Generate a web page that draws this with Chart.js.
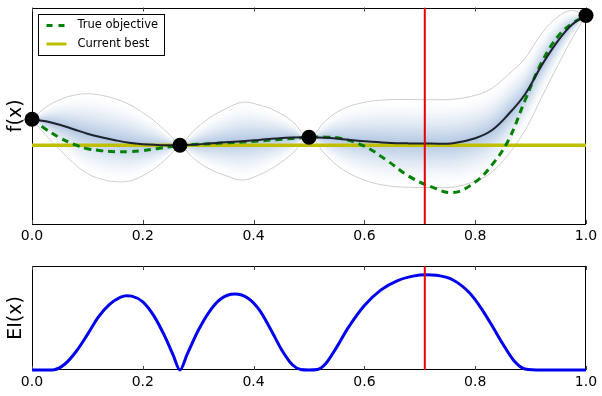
<!DOCTYPE html>
<html><head><meta charset="utf-8">
<script src="https://cdn.jsdelivr.net/npm/chart.js@4/dist/chart.umd.min.js"></script>
<style>
html,body{margin:0;padding:0;background:#fff;overflow:hidden;}
#top{position:absolute;left:0;top:0;width:602px;height:250px;}
#bot{position:absolute;left:0;top:250px;width:602px;height:146px;}
</style></head><body>
<div id="top"><canvas id="c1" width="602" height="250"></canvas></div>
<div id="bot"><canvas id="c2" width="602" height="146"></canvas></div>
<script>
// ---- data ----
const xGrid = [0, 0.025, 0.05, 0.075, 0.1, 0.125, 0.15, 0.175, 0.2, 0.225, 0.25, 0.267, 0.29, 0.32, 0.35, 0.38, 0.41, 0.44, 0.47, 0.5, 0.53, 0.56, 0.6, 0.64, 0.68, 0.72, 0.76, 0.8, 0.83, 0.86, 0.89, 0.92, 0.95, 0.975, 1.0];
const gpMean = [1.05, 1.03, 0.995, 0.95, 0.905, 0.87, 0.84, 0.815, 0.80, 0.793, 0.79, 0.79, 0.795, 0.807, 0.82, 0.83, 0.843, 0.857, 0.867, 0.87, 0.865, 0.85, 0.83, 0.815, 0.808, 0.806, 0.81, 0.86, 0.94, 1.10, 1.30, 1.59, 1.84, 2.00, 2.09];
const gpUpper = [1.05, 1.17, 1.245, 1.29, 1.305, 1.29, 1.255, 1.20, 1.115, 1.013, 0.885, 0.79, 0.925, 1.062, 1.155, 1.22, 1.193, 1.132, 1.027, 0.87, 1.035, 1.15, 1.22, 1.245, 1.248, 1.246, 1.25, 1.29, 1.36, 1.50, 1.66, 1.91, 2.08, 2.14, 2.09];
const gpLower = [1.05, 0.89, 0.745, 0.61, 0.505, 0.45, 0.425, 0.43, 0.485, 0.573, 0.695, 0.79, 0.665, 0.552, 0.485, 0.44, 0.493, 0.582, 0.707, 0.87, 0.695, 0.55, 0.44, 0.385, 0.368, 0.366, 0.37, 0.43, 0.52, 0.70, 0.94, 1.27, 1.60, 1.86, 2.09];
const trueObjective = [1.05, 0.95, 0.865, 0.80, 0.755, 0.735, 0.725, 0.725, 0.735, 0.755, 0.775, 0.79, 0.797, 0.805, 0.813, 0.822, 0.832, 0.845, 0.857, 0.87, 0.87, 0.855, 0.78, 0.64, 0.48, 0.375, 0.315, 0.42, 0.59, 0.84, 1.24, 1.62, 1.885, 2.01, 2.09];
const obsX = [0, 0.267, 0.5, 1.0];
const obsY = [1.05, 0.79, 0.87, 2.09];
const currentBest = 0.79;
const nextX = 0.709;
const eiX = [0, 0.02, 0.04, 0.06, 0.08, 0.1, 0.12, 0.14, 0.16, 0.171, 0.18, 0.2, 0.22, 0.24, 0.255, 0.267, 0.28, 0.3, 0.32, 0.34, 0.366, 0.39, 0.41, 0.43, 0.45, 0.47, 0.485, 0.5, 0.515, 0.53, 0.55, 0.57, 0.6, 0.63, 0.66, 0.69, 0.71, 0.73, 0.76, 0.79, 0.81, 0.83, 0.85, 0.87, 0.89, 0.92, 0.96, 1.0];
const eiY = [0, 0, 0.003, 0.06, 0.18, 0.34, 0.51, 0.63, 0.70, 0.714, 0.71, 0.655, 0.52, 0.32, 0.14, 0, 0.15, 0.38, 0.56, 0.68, 0.73, 0.69, 0.58, 0.40, 0.20, 0.05, 0.005, 0, 0.005, 0.06, 0.22, 0.40, 0.62, 0.77, 0.86, 0.905, 0.915, 0.91, 0.865, 0.74, 0.60, 0.43, 0.25, 0.09, 0.01, 0, 0, 0];
const xTicks = [0, 0.2, 0.4, 0.6, 0.8, 1.0];
const fRange = [0, 2.17];
const eiRange = [0, 1.0];
const legendLabels = ['True objective', 'Current best'];

// ---- helpers ----
const FONT = 'DejaVu Sans';
const pts = (xs, ys) => xs.map((x, i) => ({x: x, y: ys[i]}));

const frameTicks = {
  id: 'frameTicks',
  beforeDatasetsDraw(chart) {
    const a = chart.chartArea, ctx = chart.ctx, xs = chart.scales.x;
    ctx.save();
    ctx.strokeStyle = '#000';
    ctx.lineWidth = 1;
    ctx.strokeRect(Math.round(a.left) + 0.5, Math.round(a.top) + 0.5,
                   Math.round(a.right - a.left) - 1, Math.round(a.bottom - a.top) - 1);
    ctx.strokeStyle = '#444';
    xTicks.forEach(v => {
      const px = Math.round(xs.getPixelForValue(v)) + 0.5;
      ctx.beginPath();
      ctx.moveTo(px, a.bottom); ctx.lineTo(px, a.bottom - 4);
      ctx.moveTo(px, a.top); ctx.lineTo(px, a.top + 4);
      ctx.stroke();
    });
    ctx.restore();
  }
};

const boxLegend = {
  id: 'boxLegend',
  afterDraw(chart) {
    const a = chart.chartArea, ctx = chart.ctx;
    const x0 = Math.round(a.left) + 6.5, y0 = Math.round(a.top) + 6.5;
    ctx.save();
    ctx.fillStyle = '#fff';
    ctx.fillRect(x0, y0, 126, 41);
    ctx.strokeStyle = '#000'; ctx.lineWidth = 1;
    ctx.strokeRect(x0, y0, 126, 41);
    ctx.strokeStyle = 'rgb(0,128,0)'; ctx.lineWidth = 3;
    ctx.setLineDash([6, 6]);
    ctx.beginPath(); ctx.moveTo(x0 + 8, y0 + 11); ctx.lineTo(x0 + 28, y0 + 11); ctx.stroke();
    ctx.setLineDash([]);
    ctx.strokeStyle = 'rgb(191,191,0)'; ctx.lineWidth = 3;
    ctx.beginPath(); ctx.moveTo(x0 + 8, y0 + 29.5); ctx.lineTo(x0 + 28, y0 + 29.5); ctx.stroke();
    ctx.fillStyle = '#000';
    ctx.font = '11.5px "' + FONT + '"';
    ctx.textBaseline = 'middle';
    ctx.fillText(legendLabels[0], x0 + 39, y0 + 11);
    ctx.fillText(legendLabels[1], x0 + 39, y0 + 29.5);
    ctx.restore();
  }
};

function options(yr, title, padTop) {
  return {
    responsive: false, animation: false, devicePixelRatio: 1,
    layout: {padding: {top: padTop, right: 16, left: 0, bottom: 0}},
    plugins: {legend: {display: false}, tooltip: {enabled: false}},
    elements: {point: {radius: 0}, line: {tension: 0.4}},
    scales: {
      x: {
        type: 'linear', min: 0, max: 1,
        grid: {display: false, drawTicks: false}, border: {display: false},
        afterBuildTicks: s => { s.ticks = xTicks.map(v => ({value: v})); },
        ticks: {font: {family: FONT, size: 14}, color: '#000', padding: 4,
                maxRotation: 0, autoSkip: false, callback: v => Number(v).toFixed(1)},
        afterFit: s => { s.height = 26; s.paddingLeft = 0; s.paddingRight = 0; }
      },
      y: {
        type: 'linear', min: yr[0], max: yr[1],
        grid: {display: false, drawTicks: false}, border: {display: false},
        ticks: {display: false},
        title: {display: true, text: title, color: '#000',
                font: {family: FONT, size: 19}, padding: {top: 5, bottom: 0}},
        afterFit: s => { s.width = 32; s.paddingTop = 0; s.paddingBottom = 0; }
      }
    }
  };
}

// ---- top chart ----
// confidence band shading: nested opaque layers, outermost first, fading to white at the bounds
const topSets = [];
const N = 32;
const inner = [178, 199, 226];
for (let k = N; k >= 1; k--) {
  const f = k / N;
  const t = Math.pow(1 - (k - 0.5) / N, 1.6);
  const col = 'rgb(' + inner.map(c => Math.round(255 - t * (255 - c))).join(',') + ')';
  const up = gpMean.map((m, i) => m + (gpUpper[i] - m) * f);
  const lo = gpMean.map((m, i) => m + (gpLower[i] - m) * f);
  topSets.push({data: pts(xGrid, up), borderWidth: 0, fill: '+1', backgroundColor: col, order: 200 + k});
  topSets.push({data: pts(xGrid, lo), borderWidth: 0, fill: false, order: 200 + k});
}
topSets.push({data: pts(xGrid, gpUpper), borderColor: 'rgb(205,205,205)', borderWidth: 1,
              fill: false, order: 90});
topSets.push({data: pts(xGrid, gpLower), borderColor: 'rgb(205,205,205)', borderWidth: 1,
              fill: false, order: 90});
topSets.push({label: legendLabels[1], data: [{x: 0, y: currentBest}, {x: 1, y: currentBest}],
              borderColor: 'rgb(191,191,0)', borderWidth: 3.5, fill: false, order: 80});
topSets.push({label: legendLabels[0], data: pts(xGrid, trueObjective), borderColor: 'rgb(0,128,0)',
              borderWidth: 3, borderDash: [7, 5], fill: false, order: 70});
topSets.push({data: pts(xGrid, gpMean), borderColor: 'rgb(30,34,45)', borderWidth: 2,
              fill: false, order: 60});
topSets.push({data: [{x: nextX, y: fRange[0]}, {x: nextX, y: fRange[1]}], borderColor: 'rgb(230,0,0)',
              borderWidth: 2, fill: false, order: 50});
topSets.push({data: pts(obsX, obsY), showLine: false, pointRadius: 7.5, pointBackgroundColor: '#000',
              pointBorderColor: '#000', pointBorderWidth: 0, clip: false, order: 40});

new Chart(document.getElementById('c1'), {
  type: 'line',
  data: {datasets: topSets},
  options: options(fRange, 'f(x)', 7),
  plugins: [frameTicks, boxLegend]
});

// ---- bottom chart ----
new Chart(document.getElementById('c2'), {
  type: 'line',
  data: {datasets: [
    {data: [{x: nextX, y: eiRange[0]}, {x: nextX, y: eiRange[1]}], borderColor: 'rgb(230,0,0)',
     borderWidth: 2, fill: false, order: 10},
    {data: pts(eiX, eiY), borderColor: 'rgb(0,0,240)', borderWidth: 3, fill: false,
     cubicInterpolationMode: 'monotone', clip: false, order: 20}
  ]},
  options: options(eiRange, 'EI(x)', 16),
  plugins: [frameTicks]
});
</script>
</body></html>
